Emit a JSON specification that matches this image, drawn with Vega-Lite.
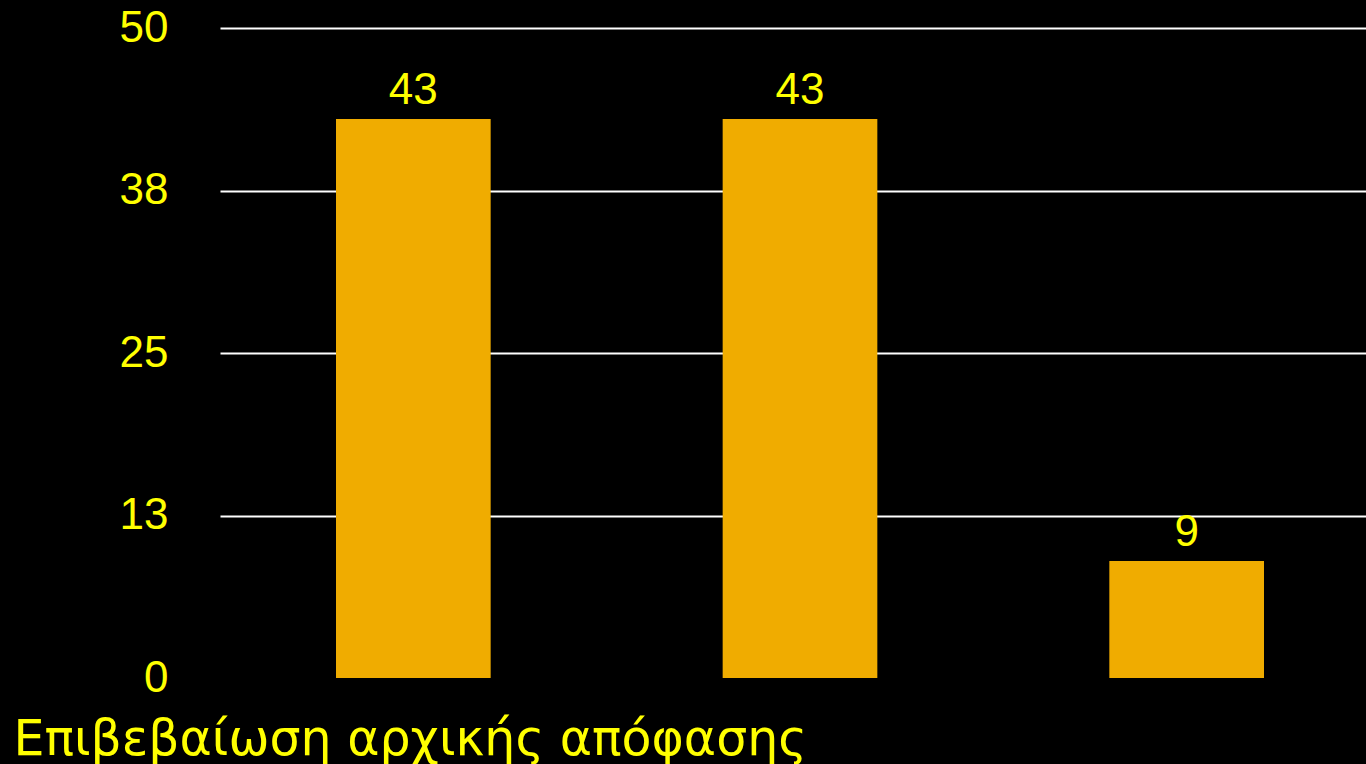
{
  "$schema": "https://vega.github.io/schema/vega-lite/v6.json",
  "autosize": {"type": "none"},
  "width": 1160,
  "height": 650,
  "padding": {"left": 220, "top": 28, "right": 0, "bottom": 86},
  "background": "#000000",
  "config": {"view": {"stroke": null}, "font": "Liberation Sans"},
  "data": {"values": [
    {"cat": "A", "value": 43},
    {"cat": "B", "value": 43},
    {"cat": "C", "value": 9}
  ]},
  "encoding": {
    "x": {
      "field": "cat", "type": "nominal", "sort": null,
      "scale": {"paddingInner": 0.6, "paddingOuter": 0.3},
      "axis": {
        "labels": false, "ticks": false, "domain": false,
        "title": "Επιβεβαίωση αρχικής απόφασης",
        "titleColor": "#FFFF00", "titleFont": "DejaVu Sans", "titleFontSize": 49, "titleFontWeight": "normal",
        "titleAnchor": "start", "titleAlign": "left", "titleBaseline": "alphabetic",
        "titleX": -207, "titleY": 76
      }
    },
    "y": {
      "field": "value", "type": "quantitative",
      "scale": {"domain": [0, 50], "nice": false},
      "axis": {
        "values": [0, 12.5, 25, 37.5, 50], "format": ".0f",
        "title": null, "ticks": false, "domain": false,
        "labelColor": "#FFFF00", "labelFontSize": 44, "labelFont": "Liberation Sans",
        "labelPadding": 52,
        "gridColor": "#FFFFFF", "gridWidth": 2,
        "gridOpacity": {"condition": {"test": "datum.value === 0", "value": 0}, "value": 1}
      }
    }
  },
  "layer": [
    {"mark": {"type": "bar", "color": "#F0AC00"}},
    {
      "mark": {"type": "text", "color": "#FFFF00", "fontSize": 44, "baseline": "alphabetic", "dy": -15, "font": "Liberation Sans"},
      "encoding": {"text": {"field": "value", "type": "quantitative"}}
    }
  ]
}
